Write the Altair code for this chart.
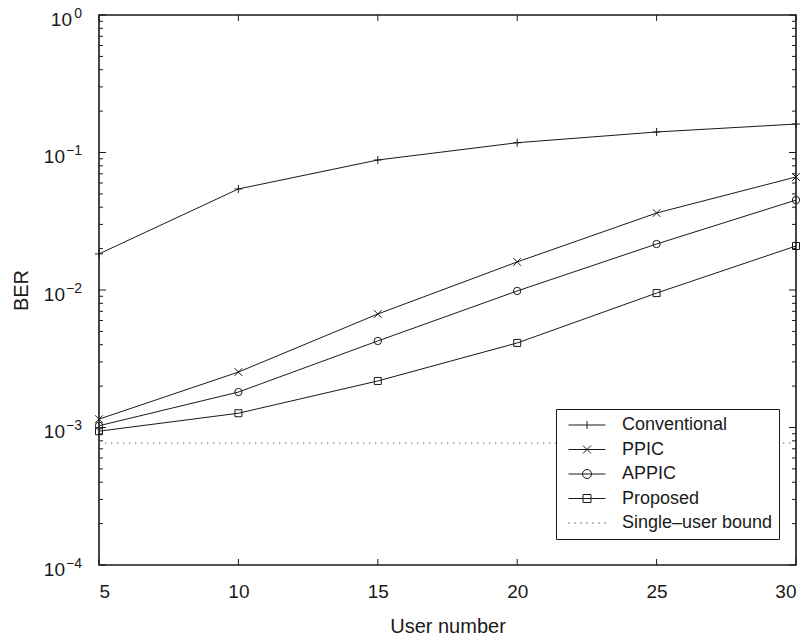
import altair as alt
import pandas as pd

# ---------------- data ----------------
users = [5, 10, 15, 20, 25, 30]
conventional = [0.0183, 0.0543, 0.0882, 0.1178, 0.141, 0.161]
ppic = [0.00115, 0.00253, 0.00669, 0.0160, 0.0363, 0.0664]
appic = [0.00103, 0.00181, 0.00426, 0.00984, 0.0216, 0.0451]
proposed = [0.00094, 0.00127, 0.00218, 0.00412, 0.0095, 0.0209]
single_user_bound = [0.00077] * 6

series_names = ["Conventional", "PPIC", "APPIC", "Proposed", "Single\u2013user bound"]
series_values = [conventional, ppic, appic, proposed, single_user_bound]

x_ticks = [5, 10, 15, 20, 25, 30]
y_major = [1e-4, 1e-3, 1e-2, 1e-1, 1.0]
y_exps = ["\u22124", "\u22123", "\u22122", "\u22121", "0"]
y_minor = [k * 10.0 ** e for e in range(-4, 0) for k in range(2, 10)]

# ---------------- tables ----------------
rows = []
for name, vals in zip(series_names, series_values):
    for u, v in zip(users, vals):
        rows.append({"users": u, "ber": v, "series": name})
df = pd.DataFrame(rows)
curves = df[df["series"] != series_names[-1]]
bound = df[df["series"] == series_names[-1]]

ymaj = pd.DataFrame({"v": y_major, "exp": y_exps})
ymin = pd.DataFrame({"v": y_minor})
xt = pd.DataFrame({"u": x_ticks})

W, H = 697, 550
FONT = "Liberation Sans"
INK = "#1a1a1a"

xs = alt.Scale(domain=[5, 30], nice=False, zero=False)
ys = alt.Scale(type="log", domain=[1e-4, 1], nice=False)

x_enc = alt.X("users:Q", scale=xs,
              axis=alt.Axis(values=x_ticks, ticks=False, domain=False, grid=False,
                            labelFontSize=19, labelPadding=17, labelColor=INK,
                            title="User number", titleFontSize=20, titleFontWeight="normal",
                            titleColor=INK, titleBaseline="alphabetic", titleY=67))
y_enc = alt.Y("ber:Q", scale=ys,
              axis=alt.Axis(labels=False, ticks=False, domain=False, grid=False,
                            title="BER", titleFontSize=20, titleFontWeight="normal",
                            titleColor=INK, titleX=-72, titleY=H / 2,
                            titleAlign="center", titleBaseline="alphabetic"))

# marker paths (unit coords scaled to sqrt(size))
plus_path = "M-1,0H1M0,-1V1"
x_path = "M-1,-1L1,1M-1,1L1,-1"
marker_shapes = [plus_path, x_path, "circle", "square"]
marker_sizes = [64, 49, 81, 64]

# legend symbols: a 37 px line with the marker in the middle
def circ(r):
    return f"M{r},0A{r},{r} 0 1,1 {-r},0A{r},{r} 0 1,1 {r},0Z"

p, c, s = 4 / 18.5, 4.5 / 18.5, 4 / 18.5
dots = "".join(f"M{-1 + i * 0.324:.3f},0H{-1 + i * 0.324 + 0.06:.3f}" for i in range(7))
legend_shapes = [
    f"M-1,0H1M0,{-p:.3f}V{p:.3f}",
    f"M-1,0H1M{-p:.3f},{-p:.3f}L{p:.3f},{p:.3f}M{-p:.3f},{p:.3f}L{p:.3f},{-p:.3f}",
    "M-1,0H1" + circ(round(c, 3)),
    f"M-1,0H1M{-s:.3f},{-s:.3f}H{s:.3f}V{s:.3f}H{-s:.3f}Z",
    dots,
]

lines = alt.Chart(curves).mark_line(color=INK, strokeWidth=1).encode(
    x=x_enc, y=y_enc, detail="series:N")

bound_line = alt.Chart(bound).mark_line(color="#555555", strokeWidth=1,
                                        strokeDash=[1.2, 4.8]).encode(
    x="users:Q", y="ber:Q")

markers = alt.Chart(curves).mark_point(filled=False, color=INK, strokeWidth=1,
                                       opacity=1).encode(
    x="users:Q", y="ber:Q",
    shape=alt.Shape("series:N", scale=alt.Scale(domain=series_names[:4], range=marker_shapes),
                    legend=None),
    size=alt.Size("series:N", scale=alt.Scale(domain=series_names[:4], range=marker_sizes),
                  legend=None),
)

legend_layer = alt.Chart(df).mark_point(filled=False, color=INK, opacity=0,
                                        size=1369, strokeWidth=1).encode(
    x="users:Q", y="ber:Q",
    shape=alt.Shape("series:N",
                    scale=alt.Scale(domain=series_names, range=legend_shapes),
                    sort=series_names,
                    legend=alt.Legend(title=None, orient="none", legendX=457, legendY=394,
                                      padding=6, fillColor="white", strokeColor=INK,
                                      symbolSize=1369, symbolOpacity=1,
                                      symbolStrokeColor=INK, symbolStrokeWidth=1,
                                      symbolFillColor="transparent",
                                      clipHeight=20, rowPadding=4.5,
                                      symbolOffset=6, labelOffset=16,
                                      labelFontSize=18, labelColor=INK, labelFont=FONT)),
)

# inward axis ticks (MATLAB box style)
def yticks(data, length):
    left = alt.Chart(data).mark_rule(color=INK, strokeWidth=1).encode(
        y=alt.Y("v:Q"), x=alt.value(0), x2=alt.value(length))
    right = alt.Chart(data).mark_rule(color=INK, strokeWidth=1).encode(
        y=alt.Y("v:Q"), x=alt.value(W), x2=alt.value(W - length))
    return [left, right]

xtick_bot = alt.Chart(xt).mark_rule(color=INK, strokeWidth=1).encode(
    x=alt.X("u:Q"), y=alt.value(H), y2=alt.value(H - 6))
xtick_top = alt.Chart(xt).mark_rule(color=INK, strokeWidth=1).encode(
    x=alt.X("u:Q"), y=alt.value(0), y2=alt.value(6))

# y tick labels: "10" with superscript exponent
base_neg = alt.Chart(ymaj).transform_filter("datum.exp != '0'").mark_text(
    align="right", baseline="alphabetic", dy=10.5, fontSize=19, color=INK, font=FONT).encode(
    y=alt.Y("v:Q"), x=alt.value(-34), text=alt.value("10"))
base_zero = alt.Chart(ymaj).transform_filter("datum.exp == '0'").mark_text(
    align="right", baseline="alphabetic", dy=10.5, fontSize=19, color=INK, font=FONT).encode(
    y=alt.Y("v:Q"), x=alt.value(-27), text=alt.value("10"))
exps = alt.Chart(ymaj).mark_text(
    align="right", baseline="alphabetic", dy=2.5, fontSize=14, color=INK, font=FONT).encode(
    y=alt.Y("v:Q"), x=alt.value(-17), text="exp:N")

chart = alt.layer(
    bound_line, lines, markers, legend_layer,
    *yticks(ymaj, 7), *yticks(ymin, 4), xtick_bot, xtick_top,
    base_neg, base_zero, exps,
).resolve_scale(shape="independent", size="independent").properties(
    width=W, height=H,
    autosize=alt.AutoSizeParams(type="none"),
    padding={"left": 99, "top": 15, "right": 14, "bottom": 72},
    background="white",
).configure(font=FONT).configure_view(stroke=INK, strokeWidth=1.6)

chart.save("out.html", embed_options={"renderer": "svg", "actions": False})
